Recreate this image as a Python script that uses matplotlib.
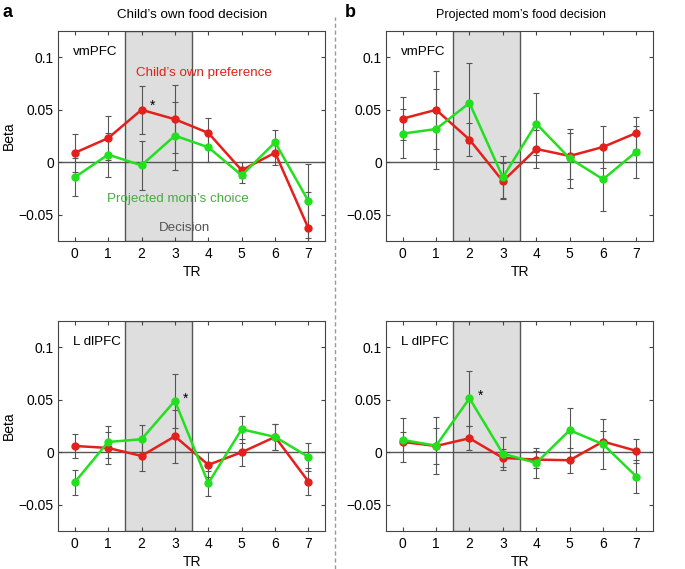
import numpy as np
import matplotlib
matplotlib.use('Agg')
import matplotlib.pyplot as plt
from matplotlib.lines import Line2D

plt.rcParams['font.family'] = ['Liberation Sans', 'DejaVu Sans']
plt.rcParams['font.size'] = 10

tr = np.arange(8)

# child's own food decision
a_vm_red = [0.009, 0.023, 0.050, 0.041, 0.028, -0.0076, 0.0092, -0.063]
a_vm_red_err = [0.018, 0.021, 0.023, 0.0325, 0.014, 0.0075, 0.0115, 0.035]
a_vm_green = [-0.0143, 0.0073, -0.0029, 0.0254, 0.0143, -0.0124, 0.019, -0.037]
a_vm_green_err = [0.018, 0.021, 0.0235, 0.0325, 0.014, 0.0075, 0.0115, 0.035]

a_dl_red = [0.006, 0.0041, -0.0035, 0.0152, -0.012, 0.0, 0.0146, -0.028]
a_dl_red_err = [0.0118, 0.015, 0.014, 0.0255, 0.012, 0.013, 0.012, 0.013]
a_dl_green = [-0.0286, 0.0098, 0.0124, 0.049, -0.0295, 0.0219, 0.0146, -0.0044]
a_dl_green_err = [0.0118, 0.015, 0.014, 0.0258, 0.012, 0.013, 0.012, 0.013]

# projected mom's food decision
b_vm_red = [0.0416, 0.050, 0.0216, -0.018, 0.0127, 0.006, 0.0146, 0.028]
b_vm_red_err = [0.0206, 0.037, 0.016, 0.017, 0.018, 0.0216, 0.020, 0.0156]
b_vm_green = [0.0273, 0.0317, 0.0565, -0.0143, 0.0368, 0.0038, -0.0162, 0.0102]
b_vm_green_err = [0.0235, 0.038, 0.0385, 0.020, 0.0295, 0.028, 0.0305, 0.0247]

b_dl_red = [0.0098, 0.006, 0.0133, -0.0054, -0.007, -0.0076, 0.0102, 0.0013]
b_dl_red_err = [0.0098, 0.017, 0.0115, 0.0083, 0.008, 0.0118, 0.010, 0.0118]
b_dl_green = [0.0117, 0.0063, 0.0514, -0.0013, -0.0102, 0.021, 0.0076, -0.0232]
b_dl_green_err = [0.0206, 0.027, 0.026, 0.016, 0.014, 0.021, 0.024, 0.016]

RED = '#e3201c'
GREEN = '#22e01e'
FS = 9.6

fig = plt.figure(figsize=(6.85, 5.69), dpi=100)

lefts = [0.0847, 0.5635]
bottoms = [0.5764, 0.0668]
w, h = 0.39, 0.369

panels = [
    (0, 0, 'vmPFC', a_vm_red, a_vm_red_err, a_vm_green, a_vm_green_err, (2.33, 0.054)),
    (1, 0, 'vmPFC', b_vm_red, b_vm_red_err, b_vm_green, b_vm_green_err, None),
    (0, 1, 'L dlPFC', a_dl_red, a_dl_red_err, a_dl_green, a_dl_green_err, (3.32, 0.051)),
    (1, 1, 'L dlPFC', b_dl_red, b_dl_red_err, b_dl_green, b_dl_green_err, (2.33, 0.054)),
]

for col, row, roi, red, red_e, green, green_e, star in panels:
    ax = fig.add_axes([lefts[col], bottoms[row], w, h])
    ax.axvspan(1.5, 3.5, facecolor='#dedede', edgecolor='#555555', lw=1.0, zorder=0)
    ax.axhline(0, color='#555555', lw=1.0, zorder=1)
    for y, e in ((red, red_e), (green, green_e)):
        ax.errorbar(tr, y, yerr=e, fmt='none', ecolor='#555555', elinewidth=0.8,
                    capsize=2.5, capthick=0.8, zorder=2)
    ax.plot(tr, red, '-o', color=RED, lw=1.8, ms=5, zorder=3)
    ax.plot(tr, green, '-o', color=GREEN, lw=1.8, ms=5, zorder=3)
    ax.set_xlim(-0.5, 7.5)
    ax.set_ylim(-0.075, 0.125)
    ax.set_xticks(tr)
    ax.set_yticks([-0.05, 0, 0.05, 0.1])
    ax.set_yticklabels(['\u22120.05', '0', '0.05', '0.1'])
    ax.tick_params(direction='in', top=True, right=True, length=3, labelsize=FS + 0.4,
                   color='#444444', pad=4)
    ax.tick_params(axis='y', pad=3)
    for s in ax.spines.values():
        s.set_color('#444444')
    ax.set_xlabel('TR', fontsize=FS + 0.4, labelpad=3)
    if col == 0:
        ax.set_ylabel('Beta', fontsize=FS + 0.4)
        ax.yaxis.set_label_coords(-0.158, 0.5)
    ax.text(-0.05, 0.105, roi, fontsize=FS, va='center', ha='left')
    if star is not None:
        ax.text(star[0], star[1], '*', fontsize=10, ha='center', va='center')
    if col == 0 and row == 0:
        ax.text(3.87, 0.085, "Child\u2019s own preference", color=RED, fontsize=FS,
                ha='center', va='center')
        ax.text(3.1, -0.035, "Projected mom\u2019s choice", color='#46ad3e', fontsize=FS,
                ha='center', va='center')
        ax.text(3.3, -0.063, 'Decision', color='#555555', fontsize=FS,
                ha='center', va='center')

fig.text(0.28, 0.973, "Child\u2019s own food decision", ha='center', va='center', fontsize=FS)
fig.text(0.76, 0.973, "Projected mom\u2019s food decision", ha='center', va='center', fontsize=FS - 0.6)
fig.text(0.004, 0.978, 'a', fontsize=13, fontweight='bold', ha='left', va='center')
fig.text(0.504, 0.978, 'b', fontsize=13, fontweight='bold', ha='left', va='center')

fig.add_artist(Line2D([0.489, 0.489], [0.0, 0.97], transform=fig.transFigure,
                      color='#999999', lw=1.0, ls=(0, (3, 2))))

fig.savefig('out.png', dpi=100)
